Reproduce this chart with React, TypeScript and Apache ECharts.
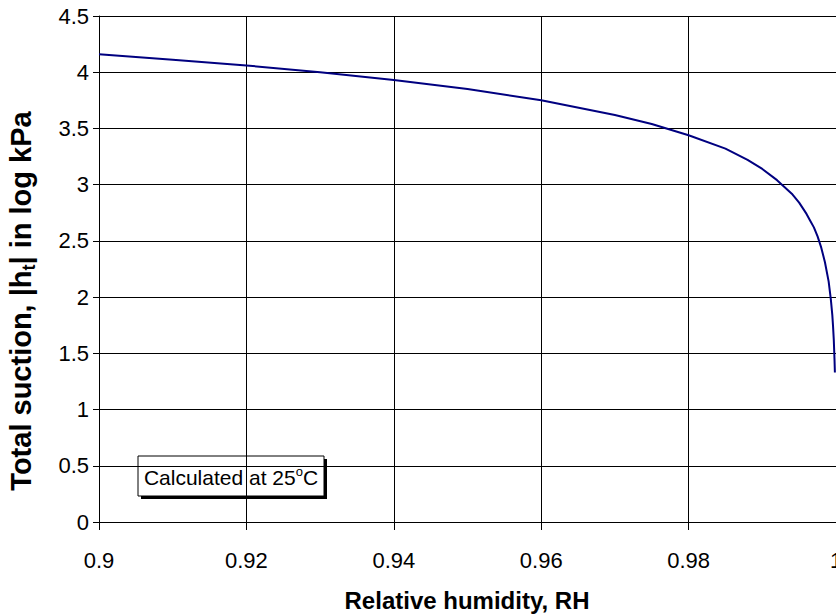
import React, { useEffect, useRef } from "react";
import * as echarts from "echarts";

// Relative humidity (x) and total suction in log kPa (y)
const rhValues = [
  0.9, 0.91, 0.92, 0.93, 0.94, 0.95, 0.96, 0.97, 0.975, 0.98, 0.985, 0.988,
  0.99, 0.992, 0.993, 0.994, 0.995, 0.996, 0.9965, 0.997, 0.9975, 0.998,
  0.9985, 0.999, 0.9993, 0.9995, 0.9996, 0.9997, 0.9998, 0.99985,
];
const suctionValues = [
  4.16, 4.11, 4.06, 4.0, 3.93, 3.85, 3.75, 3.62, 3.54, 3.44, 3.32, 3.22,
  3.14, 3.04, 2.98, 2.92, 2.84, 2.74, 2.68, 2.62, 2.54, 2.44,
  2.31, 2.14, 1.98, 1.84, 1.74, 1.62, 1.44, 1.33,
];

const xTitle = "Relative humidity, RH";
const yTitleParts = ["Total suction, |h", "t", "| in log kPa"];
const noteParts = ["Calculated at 25", "o", "C"];

const FONT = "Arial, 'Liberation Sans', sans-serif";

export default function App() {
  const ref = useRef<HTMLDivElement>(null);

  useEffect(() => {
    if (!ref.current) return;
    const chart = echarts.init(ref.current, undefined, { renderer: "svg" });
    const data = rhValues.map((x, i) => [x, suctionValues[i]]);
    chart.setOption({
      animation: false,
      backgroundColor: "#ffffff",
      grid: {
        left: 99,
        top: 16,
        right: 0,
        bottom: 93,
        containLabel: false,
        outerBoundsMode: "none",
      },
      xAxis: {
        type: "value",
        min: 0.9,
        max: 1,
        interval: 0.02,
        axisLine: { show: true, onZero: false, lineStyle: { color: "#000", width: 1 } },
        axisTick: { show: true, length: 8, lineStyle: { color: "#000" } },
        axisLabel: {
          color: "#000",
          fontSize: 22,
          fontFamily: FONT,
          margin: 27,
          showMaxLabel: true,
          showMinLabel: true,
          hideOverlap: false,
        },
        splitLine: { show: true, lineStyle: { color: "#000", width: 1 } },
      },
      yAxis: {
        type: "value",
        min: 0,
        max: 4.5,
        interval: 0.5,
        axisLine: { show: true, lineStyle: { color: "#000", width: 1 } },
        axisTick: { show: true, length: 6, lineStyle: { color: "#000" } },
        axisLabel: {
          color: "#000",
          fontSize: 22,
          fontFamily: FONT,
          margin: 10,
        },
        splitLine: { show: true, lineStyle: { color: "#000", width: 1 } },
      },
      series: [
        {
          type: "line",
          data,
          showSymbol: false,
          smooth: false,
          lineStyle: { color: "#000080", width: 2 },
          clip: false,
        },
      ],
      graphic: [
        {
          type: "text",
          x: 467,
          y: 600,
          style: {
            text: xTitle,
            fontSize: 24,
            fontWeight: "bold",
            fontFamily: FONT,
            fill: "#000",
            align: "center",
            verticalAlign: "middle",
          },
        },
        {
          type: "text",
          x: 21,
          y: 301,
          rotation: Math.PI / 2,
          style: {
            text: `{b|${yTitleParts[0]}}{s|${yTitleParts[1]}}{b|${yTitleParts[2]}}`,
            fontFamily: FONT,
            fill: "#000",
            align: "center",
            verticalAlign: "middle",
            rich: {
              b: { fontSize: 29, fontWeight: "bold", fontFamily: FONT, fill: "#000", lineHeight: 33 },
              s: { fontSize: 18, fontWeight: "bold", fontFamily: FONT, fill: "#000", verticalAlign: "bottom", lineHeight: 27 },
            },
          },
        },
        {
          type: "group",
          children: [
            { type: "rect", shape: { x: 141, y: 459, width: 186, height: 40 }, style: { fill: "#000" } },
            { type: "rect", shape: { x: 138, y: 456, width: 186, height: 40 }, style: { fill: "#fff", stroke: "#000", lineWidth: 1 } },
            {
              type: "text",
              x: 231,
              y: 477,
              style: {
                text: `{n|${noteParts[0]}}{p|${noteParts[1]}}{n|${noteParts[2]}}`,
                fontFamily: FONT,
                align: "center",
                verticalAlign: "middle",
                rich: {
                  n: { fontSize: 21, fontFamily: FONT, fill: "#000", lineHeight: 24 },
                  p: { fontSize: 13, fontFamily: FONT, fill: "#000", verticalAlign: "top", lineHeight: 14 },
                },
              },
            },
          ],
        },
      ],
    });
    return () => chart.dispose();
  }, []);

  return (
    <div
      ref={ref}
      style={{ position: "fixed", left: 0, top: 0, width: 836, height: 615, background: "#fff" }}
    />
  );
}
